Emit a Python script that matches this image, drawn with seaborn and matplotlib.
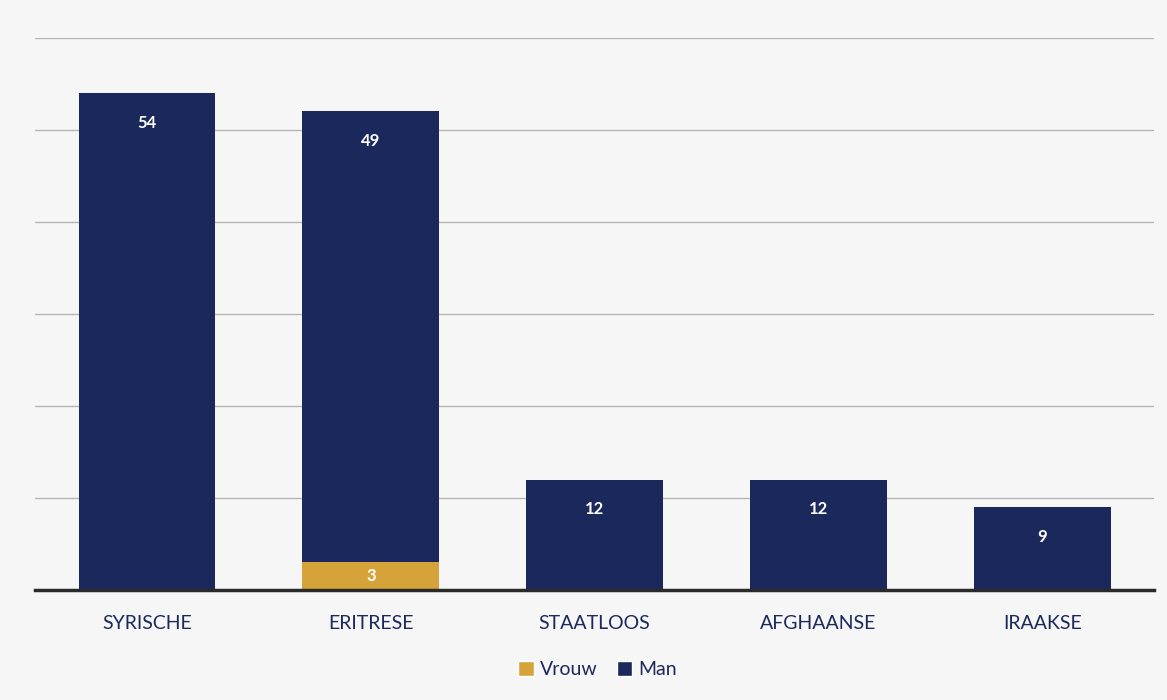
import matplotlib
matplotlib.use("Agg")
import matplotlib.pyplot as plt
import seaborn as sns
import pandas as pd
from matplotlib.patches import Patch

categories = ["SYRISCHE", "ERITRESE", "STAATLOOS", "AFGHAANSE", "IRAAKSE"]
vrouw = [0, 3, 0, 0, 0]
man = [54, 49, 12, 12, 9]

NAVY = "#1b285c"
GOLD = "#d6a33a"

sns.set_theme(style="white")
plt.rcParams["font.family"] = ["Lato", "DejaVu Sans"]

df = pd.DataFrame({"cat": categories, "Vrouw": vrouw, "Man": man})

fig = plt.figure(figsize=(11.67, 7.0), dpi=100, facecolor="#f6f6f6")
ax = fig.add_axes([0.030, 0.157, 0.959, 0.789])
ax.set_facecolor("none")

sns.barplot(data=df, x="cat", y="Vrouw", color=GOLD, width=0.61, ax=ax,
            saturation=1, zorder=3, linewidth=0)
sns.barplot(data=df, x="cat", y="Man", color=NAVY, width=0.61, ax=ax,
            saturation=1, bottom=df["Vrouw"], zorder=3, linewidth=0)

cont_v = ax.containers[0]
cont_m = ax.containers[1]
ax.bar_label(cont_v, labels=[str(v) if v > 0 else "" for v in vrouw],
             label_type="center", color="white", fontsize=12, fontweight="bold")
ax.bar_label(cont_m, labels=[str(v) for v in man], padding=-27,
             color="white", fontsize=12, fontweight="bold")

ax.set_ylim(0, 60)
ax.set_xlim(-0.5, 4.5)
ax.set_yticks(range(0, 61, 10))
ax.set_yticklabels([])
ax.tick_params(axis="y", length=0)
ax.yaxis.grid(True, color="#b5b5b5", linewidth=1.0, zorder=0)
ax.set_axisbelow(True)
for s in ["top", "right", "left"]:
    ax.spines[s].set_visible(False)
ax.spines["bottom"].set_color("#2b2b2b")
ax.spines["bottom"].set_linewidth(2.5)
ax.spines["bottom"].set_zorder(4)
ax.set_xlabel("")
ax.set_ylabel("")
ax.tick_params(axis="x", length=0, pad=18, labelsize=14, labelcolor=NAVY)

handles = [Patch(facecolor=GOLD, label="Vrouw"), Patch(facecolor=NAVY, label="Man")]
fig.legend(handles=handles, loc="center", bbox_to_anchor=(0.512, 0.043), ncol=2,
           frameon=False, fontsize=14, handlelength=0.8, handleheight=0.8,
           handletextpad=0.3, columnspacing=1.0, labelcolor=NAVY)

fig.savefig("out.png", dpi=100, facecolor=fig.get_facecolor())
